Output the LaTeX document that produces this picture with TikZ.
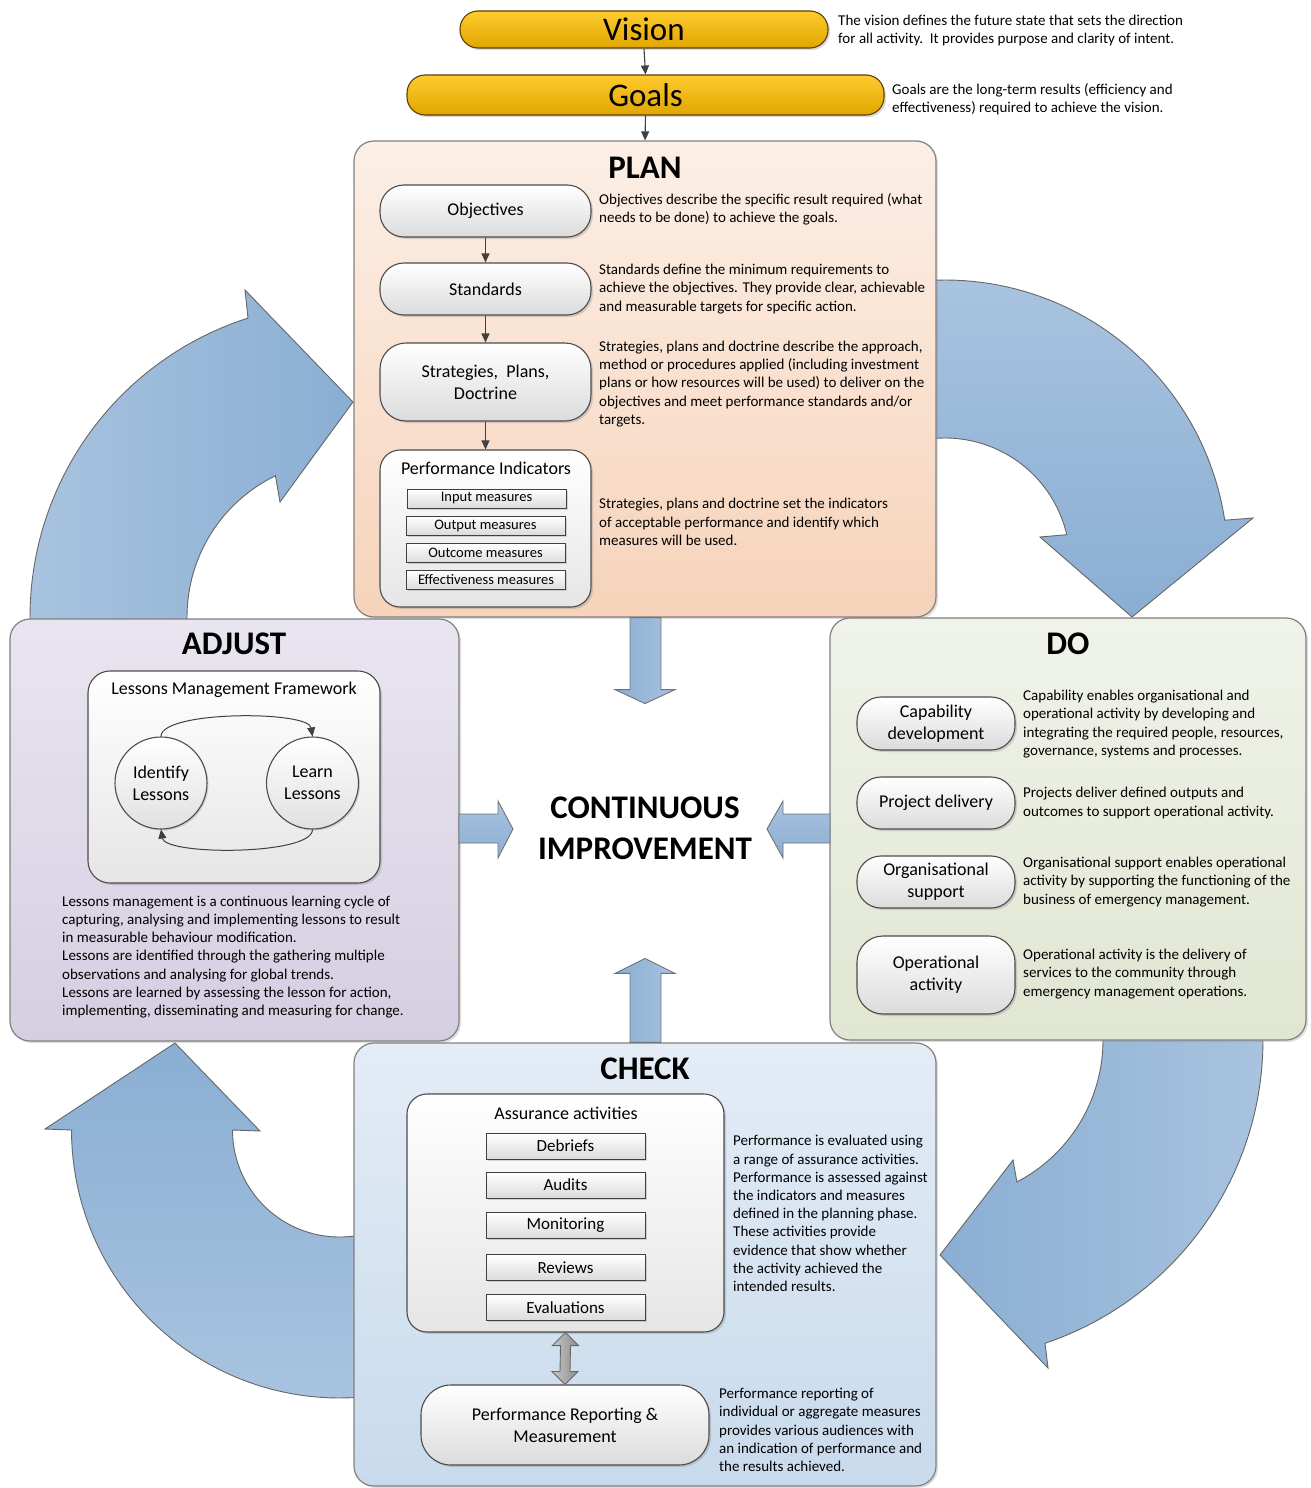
\documentclass[tikz,border=0pt]{standalone}
\usepackage{fontspec}
\setmainfont{Carlito}
\usetikzlibrary{arrows.meta,calc,shadows}
\definecolor{planT}{HTML}{FCEFE6}\definecolor{planB}{HTML}{F6D3BA}
\definecolor{adjT}{HTML}{E9E5F0}\definecolor{adjB}{HTML}{D6CEE1}
\definecolor{doT}{HTML}{F0F3EA}\definecolor{doB}{HTML}{E0E6D1}
\definecolor{chkT}{HTML}{E4ECF6}\definecolor{chkB}{HTML}{C8DAEC}
\definecolor{arrL}{HTML}{A8C3DF}\definecolor{arrD}{HTML}{8AAED3}
\definecolor{goldT}{HTML}{FFCB2E}\definecolor{goldB}{HTML}{E0A500}
\begin{document}
\begin{tikzpicture}[x=1pt,y=-1pt,
  conn/.style={draw=black!75, line width=1.1pt, -{Triangle[length=9pt,width=8pt]}},
  bigbox/.style={draw=black!50, line width=1.2pt, rounded corners=20pt, drop shadow={shadow xshift=2pt,shadow yshift=-2pt,opacity=0.25}},
  pill/.style={draw=black!70, line width=1.1pt, top color=white, bottom color=black!14, align=center, inner sep=0pt, font=\fontsize{18}{22}\selectfont, drop shadow={shadow xshift=2pt,shadow yshift=-2pt,opacity=0.3}},
  ibox/.style={draw=black!70, line width=1.1pt, top color=white, bottom color=black!10, rounded corners=20pt, drop shadow={shadow xshift=2pt,shadow yshift=-2pt,opacity=0.3}},
  mbox/.style={draw=black!75, line width=0.9pt, top color=white, bottom color=black!14, inner sep=0pt, drop shadow={shadow xshift=1.5pt,shadow yshift=-1.5pt,opacity=0.3}},
  desc/.style={anchor=west, align=left, inner sep=0pt, font=\fontsize{15}{18.2}\selectfont},
  ttl/.style={font=\fontsize{33}{36}\selectfont\bfseries, inner sep=0pt},
  sub/.style={font=\fontsize{18}{22}\selectfont, inner sep=0pt},
  bigarrow/.style={draw=black!60, line width=0.9pt},
  blockarr/.style={draw=black!55, line width=0.9pt},
  goldpill/.style={draw=black!60!goldB, line width=1.1pt, top color=goldT, bottom color=goldB, rounded corners=18pt, font=\fontsize{33}{36}\selectfont, inner sep=0pt, drop shadow={shadow xshift=2pt,shadow yshift=-2pt,opacity=0.3}}
]
\useasboundingbox (0,0) rectangle (1311,1488);

% ---------- big curved arrows ----------
\draw[bigarrow, left color=arrL, right color=arrD]
  plot[domain=175:252.2, samples=50] ({344+314*cos(\x)},{617+314*sin(\x)})
  -- (245,290) -- (353,402) -- (280,502)
  -- plot[domain=244.1:175, samples=50] ({344+157*cos(\x)},{617+157*sin(\x)}) -- cycle;
\draw[bigarrow, top color=arrL, bottom color=arrD]
  plot[domain=265:351.3, samples=50] ({945+283*cos(\x)},{563+283*sin(\x)})
  -- (1253,518) -- (1132,617) -- (1040,537)
  -- plot[domain=346.9:265, samples=50] ({945+125*cos(\x)},{563+125*sin(\x)}) -- cycle;
\draw[bigarrow, left color=arrD, right color=arrL]
  plot[domain=-5:71.4, samples=50] ({943+320*cos(\x)},{1040+320*sin(\x)})
  -- (1048,1368) -- (940,1255) -- (1013,1160)
  -- plot[domain=62.5:-5, samples=50] ({943+160*cos(\x)},{1040+160*sin(\x)}) -- cycle;
\draw[bigarrow, top color=arrD, bottom color=arrL]
  (45,1129) -- (175,1043) -- (260,1131)
  -- plot[domain=180:80, samples=50] ({339.5+107*cos(\x)},{1130+107*sin(\x)})
  -- plot[domain=80:180, samples=50] ({339.5+268*cos(\x)},{1130+268*sin(\x)}) -- cycle;

% ---------- big boxes ----------
\node[bigbox, top color=planT, bottom color=planB, minimum width=582pt, minimum height=476pt] (plan) at (645,379) {};
\node[bigbox, top color=adjT, bottom color=adjB, minimum width=449pt, minimum height=422pt] (adjust) at (234.5,830) {};
\node[bigbox, top color=doT, bottom color=doB, minimum width=476pt, minimum height=422pt] (do) at (1068,829) {};
\node[bigbox, top color=chkT, bottom color=chkB, minimum width=582pt, minimum height=443pt] (check) at (645,1264.5) {};

% ---------- centre ----------
\node[font=\fontsize{33}{41}\selectfont\bfseries, align=center, inner sep=0pt] (ci) at (645,828.5) {CONTINUOUS\\IMPROVEMENT};

% straight block arrows
\draw[blockarr, left color=arrD, right color=arrL]
  ($(plan.south)+(-15,0)$) -- ($(plan.south)+(-15,72)$) -- ($(plan.south)+(-30,72)$) -- ($(plan.south)+(0,86)$)
  -- ($(plan.south)+(30,72)$) -- ($(plan.south)+(16,72)$) -- ($(plan.south)+(16,0)$) -- cycle;
\draw[blockarr, left color=arrD, right color=arrL]
  ($(check.north)+(-15,0)$) -- ($(check.north)+(-15,-69)$) -- ($(check.north)+(-30,-69)$) -- ($(check.north)+(0,-84)$)
  -- ($(check.north)+(30,-69)$) -- ($(check.north)+(16,-69)$) -- ($(check.north)+(16,0)$) -- cycle;
\draw[blockarr, top color=arrL, bottom color=arrD]
  (459,814) -- (498,814) -- (498,801) -- (513,829) -- (498,858) -- (498,843) -- (459,843) -- cycle;
\draw[blockarr, top color=arrL, bottom color=arrD]
  (830,814) -- (783,814) -- (783,801) -- (767,829) -- (783,858) -- (783,843) -- (830,843) -- cycle;

% ---------- vision / goals ----------
\node[goldpill, minimum width=368pt, minimum height=37pt] (vision) at (644,29.5) {Vision};
\node[goldpill, minimum width=477pt, minimum height=40pt] (goals) at (645.5,95) {Goals};
\node[desc] (visiondesc) at (838,30.5) {The vision defines the future state that sets the direction\\for all activity.\ \ It provides purpose and clarity of intent.};
\node[desc] (goalsdesc) at (892,99) {Goals are the long-term results (efficiency and\\effectiveness) required to achieve the vision.};
\draw[conn] (vision.south) -- (goals.north);
\draw[conn] (goals.south) -- (plan.north);

% ---------- PLAN ----------
\node[ttl] (plant) at (645,168) {PLAN};
\node[pill, rounded corners=24pt, minimum width=211pt, minimum height=52pt] (obj) at (485.5,211) {Objectives};
\node[pill, rounded corners=24pt, minimum width=211pt, minimum height=52pt] (std) at (485.5,289) {Standards};
\node[pill, rounded corners=26pt, minimum width=211pt, minimum height=78pt] (strat) at (485.5,382) {Strategies,\ \ Plans,\\Doctrine};
\node[ibox, minimum width=211pt, minimum height=157pt] (pind) at (485.5,528.5) {};
\node[sub] (pindt) at (486,468) {Performance Indicators};
\node[mbox, minimum width=159pt, minimum height=19pt, font=\fontsize{14.5}{16}\selectfont] (m1) at (486.5,498.5) {Input measures};
\node[mbox, minimum width=159pt, minimum height=19pt, font=\fontsize{14.5}{16}\selectfont] (m2) at (485.5,525.5) {Output measures};
\node[mbox, minimum width=159pt, minimum height=19pt, font=\fontsize{14.5}{16}\selectfont] (m3) at (485.5,553) {Outcome measures};
\node[mbox, minimum width=159pt, minimum height=19pt, font=\fontsize{14.5}{16}\selectfont] (m4) at (486,580) {Effectiveness measures};
\draw[conn] (obj) -- (std);
\draw[conn] (std) -- (strat);
\draw[conn] (strat) -- (pind);
\node[desc] (objd) at (599,209.5) {Objectives describe the specific result required (what\\needs to be done) to achieve the goals.};
\node[desc] (stdd) at (599,289) {Standards define the minimum requirements to\\achieve the objectives. They provide clear, achievable\\and measurable targets for specific action.};
\node[desc] (stratd) at (599,384) {Strategies, plans and doctrine describe the approach,\\method or procedures applied (including investment\\plans or how resources will be used) to deliver on the\\objectives and meet performance standards and/or\\targets.};
\node[desc] (pindd) at (599,522) {Strategies, plans and doctrine set the indicators\\of acceptable performance and identify which\\measures will be used.};

% ---------- ADJUST ----------
\node[ttl] (adjt) at (234,644) {ADJUST};
\node[ibox, rounded corners=22pt, minimum width=292pt, minimum height=212pt] (lmf) at (234,777) {};
\node[sub] (lmft) at (234,690) {Lessons Management Framework};
\node[circle, draw=black!70, line width=1.1pt, top color=white, bottom color=black!12, minimum size=92pt, inner sep=0pt, align=center, font=\fontsize{18}{22}\selectfont, drop shadow={shadow xshift=1.5pt,shadow yshift=-1.5pt,opacity=0.3}] (idl) at (161,783) {Identify\\Lessons};
\node[circle, draw=black!70, line width=1.1pt, top color=white, bottom color=black!12, minimum size=92pt, inner sep=0pt, align=center, font=\fontsize{18}{22}\selectfont, drop shadow={shadow xshift=1.5pt,shadow yshift=-1.5pt,opacity=0.3}] (lrn) at (312.5,783) {Learn\\Lessons};
\draw[conn, line width=1pt] (idl.north) .. controls ($(idl.north)+(0,-26)$) and ($(lrn.north)+(-4,-26)$) .. (lrn.north);
\draw[conn, line width=1pt] (lrn.south) .. controls ($(lrn.south)+(0,26)$) and ($(idl.south)+(4,26)$) .. (idl.south);
\node[desc] (adjd) at (62,957) {Lessons management is a continuous learning cycle of\\capturing, analysing and implementing lessons to result\\in measurable behaviour modification.\\Lessons are identified through the gathering multiple\\observations and analysing for global trends.\\Lessons are learned by assessing the lesson for action,\\implementing, disseminating and measuring for change.};

% ---------- DO ----------
\node[ttl] (dot) at (1068,644) {DO};
\node[pill, rounded corners=24pt, minimum width=158pt, minimum height=53pt] (cap) at (936,723.5) {Capability\\development};
\node[pill, rounded corners=24pt, minimum width=158pt, minimum height=52pt] (proj) at (936,803) {Project delivery};
\node[pill, rounded corners=24pt, minimum width=158pt, minimum height=52pt] (org) at (936,882) {Organisational\\support};
\node[pill, rounded corners=26pt, minimum width=158pt, minimum height=78pt] (oper) at (936,975) {Operational\\activity};
\node[desc] (capd) at (1023,724) {Capability enables organisational and\\operational activity by developing and\\integrating the required people, resources,\\governance, systems and processes.};
\node[desc] (projd) at (1023,803) {Projects deliver defined outputs and\\outcomes to support operational activity.};
\node[desc] (orgd) at (1023,882) {Organisational support enables operational\\activity by supporting the functioning of the\\business of emergency management.};
\node[desc] (operd) at (1023,974) {Operational activity is the delivery of\\services to the community through\\emergency management operations.};

% ---------- CHECK ----------
\node[ttl] (chkt) at (645,1069) {CHECK};
\node[ibox, minimum width=317pt, minimum height=238pt] (assur) at (565.5,1213) {};
\node[sub] (assurt) at (566,1113) {Assurance activities};
\node[mbox, minimum width=159pt, minimum height=26pt, font=\fontsize{17}{20}\selectfont] (a1) at (565.5,1146) {Debriefs};
\node[mbox, minimum width=159pt, minimum height=26pt, font=\fontsize{17}{20}\selectfont] (a2) at (565.5,1185) {Audits};
\node[mbox, minimum width=159pt, minimum height=26pt, font=\fontsize{17}{20}\selectfont] (a3) at (565.5,1225.5) {Monitoring};
\node[mbox, minimum width=159pt, minimum height=26pt, font=\fontsize{17}{20}\selectfont] (a4) at (565.5,1267.5) {Reviews};
\node[mbox, minimum width=159pt, minimum height=26pt, font=\fontsize{17}{20}\selectfont] (a5) at (565.5,1307.5) {Evaluations};
\node[pill, rounded corners=30pt, minimum width=288pt, minimum height=80pt] (prm) at (565,1425) {Performance Reporting \&\\Measurement};
\draw[draw=black!60, line width=0.9pt, left color=black!22, right color=black!45]
  (assur.south) -- ($(assur.south)+(13,13)$) -- ($(assur.south)+(5,13)$) -- ($(prm.north)+(5,-13)$)
  -- ($(prm.north)+(13,-13)$) -- (prm.north) -- ($(prm.north)+(-13,-13)$) -- ($(prm.north)+(-5,-13)$)
  -- ($(assur.south)+(-5,13)$) -- ($(assur.south)+(-13,13)$) -- cycle;
\node[desc] (assurd) at (733,1213.5) {Performance is evaluated using\\a range of assurance activities.\\Performance is assessed against\\the indicators and measures\\defined in the planning phase.\\These activities provide\\evidence that show whether\\the activity achieved the\\intended results.};
\node[desc] (prmd) at (719,1430) {Performance reporting of\\individual or aggregate measures\\provides various audiences with\\an indication of performance and\\the results achieved.};
\end{tikzpicture}
\end{document}
